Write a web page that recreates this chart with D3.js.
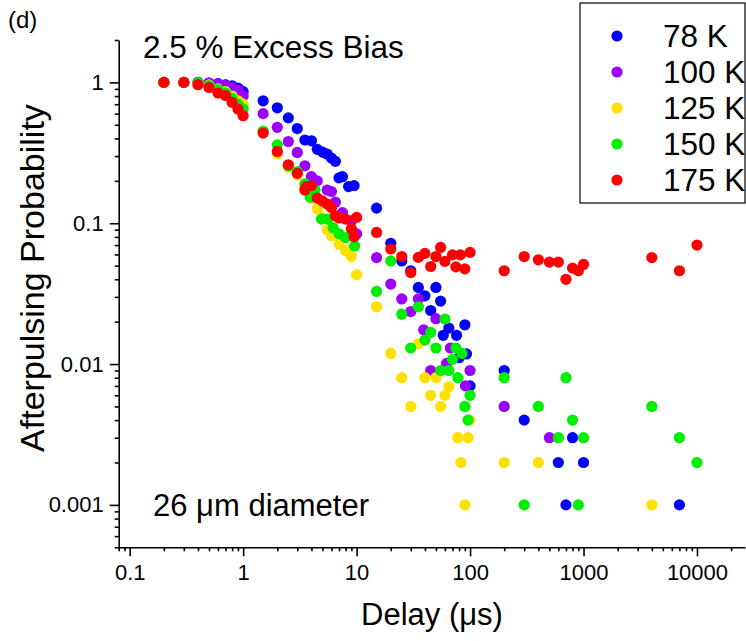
<!DOCTYPE html>
<html>
<head>
<meta charset="utf-8">
<script src="https://cdn.jsdelivr.net/npm/d3@7"></script>
<style>
  html, body { margin: 0; padding: 0; background: #fff; }
  svg { display: block; font-family: "Liberation Sans", Arial, sans-serif; }
  .axis path, .axis line { stroke: #000; stroke-width: 1.6px; }
  .axis text { fill: #000; font-size: 22px; font-family: "Liberation Sans", Arial, sans-serif; }
</style>
</head>
<body>
<svg id="chart" width="746" height="641"></svg>
<script>
// Afterpulsing probability vs. delay, 2.5 % excess bias, 26 um diameter device
const seriesNames = ["78 K", "100 K", "125 K", "150 K", "175 K"];
const seriesColors = ["#0000ff", "#9900ff", "#ffe100", "#00ee00", "#ff0000"];

const delay78 = [0.2,0.3,0.4,0.5,0.6,0.7,0.8,0.9,1.0,1.5,2,2.5,3,3.5,4,4.5,5,5.5,6,6.5,7,7.5,8.5,9.5,15,20,25,30,35,40,45,50,55,58,65,76,80,90,93,100,200,300,600,700,800,1000,7000];
const prob78 = [1.0,1.0,1.0,0.99,0.98,0.96,0.945,0.91,0.86,0.74,0.66,0.56,0.47,0.39,0.385,0.335,0.32,0.31,0.29,0.275,0.21,0.214,0.182,0.185,0.128,0.072,0.054,0.046,0.035,0.0305,0.024,0.035,0.028,0.016,0.018,0.016,0.0111,0.019,0.0118,0.007,0.009,0.004,0.002,0.001,0.003,0.002,0.001];

const delay100 = [0.2,0.3,0.4,0.5,0.6,0.7,0.8,0.9,1.0,1.5,2,2.5,3,3.5,4,4.5,5.5,6,6.5,7.5,9,10,15,20,25,30,35,39,45,50,62,67,91,100,200,500];
const prob100 = [1.0,1.0,1.0,0.99,0.97,0.96,0.92,0.88,0.8,0.6,0.48,0.38,0.318,0.256,0.214,0.2,0.172,0.168,0.141,0.119,0.104,0.084,0.057,0.037,0.029,0.0236,0.029,0.0175,0.009,0.021,0.0101,0.013,0.007,0.009,0.005,0.003];

const delay125 = [0.2,0.3,0.4,0.5,0.6,0.7,0.8,0.9,1.0,1.5,2,2.5,3,3.5,4,4.5,5,5.5,6,7,8,9,10,15,20,25,30,35,40,45,50,55,60,65,78,83,90,96,100,200,400,4000];
const prob125 = [1.0,1.0,0.99,0.96,0.9,0.86,0.8,0.74,0.7,0.45,0.31,0.25,0.22,0.18,0.15,0.126,0.11,0.09,0.0815,0.071,0.064,0.058,0.043,0.0255,0.0119,0.008,0.005,0.0139,0.008,0.006,0.008,0.005,0.006,0.0069,0.003,0.002,0.001,0.003,0.004,0.002,0.002,0.001];

const delay150 = [0.2,0.3,0.4,0.5,0.6,0.7,0.8,0.9,1.0,1.5,2,2.5,3,3.5,3.9,4.3,4.9,5.6,6.2,7,8,9.6,15,20,25,30,35,40,45,50,55,60,65,70,75,78,85,90,96,100,200,300,400,600,700,800,900,1000,4000,7000,10000];
const prob150 = [1.0,1.0,0.99,0.95,0.89,0.84,0.77,0.7,0.65,0.45,0.36,0.256,0.233,0.19,0.153,0.172,0.107,0.107,0.093,0.084,0.079,0.069,0.0328,0.054,0.0226,0.013,0.0255,0.0148,0.0168,0.013,0.009,0.0209,0.009,0.0108,0.013,0.008,0.0119,0.005,0.004,0.006,0.008,0.001,0.005,0.003,0.008,0.004,0.001,0.003,0.005,0.003,0.002];

const delay175 = [0.2,0.3,0.4,0.5,0.6,0.7,0.8,0.9,1.0,1.5,2,2.5,3,3.5,3.6,4,4.5,5,5.5,6,6.5,7,8,9,9.5,10,15,20,25,30,35,40,45,50,55,60,70,75,82,90,100,200,300,400,500,600,700,800,900,1000,4000,7000,10000];
const prob175 = [1.0,1.0,0.963,0.92,0.841,0.805,0.721,0.647,0.58,0.437,0.323,0.26,0.226,0.172,0.182,0.185,0.151,0.144,0.137,0.129,0.113,0.109,0.107,0.091,0.08,0.11,0.086,0.0656,0.058,0.0447,0.0572,0.0611,0.0493,0.058,0.0673,0.0536,0.0596,0.049,0.0596,0.0474,0.0621,0.046,0.058,0.055,0.053,0.053,0.04,0.048,0.046,0.051,0.057,0.046,0.07];

const xTickValues = [0.1, 1, 10, 100, 1000, 10000];
const yTickValues = [0.001, 0.01, 0.1, 1];

const seriesDelays = [delay78, delay100, delay125, delay150, delay175];
const seriesProbs = [prob78, prob100, prob125, prob150, prob175];

const svg = d3.select("#chart");
const plotLeft = 118.7, plotRight = 745, plotTop = 40, plotBottom = 547.3;

const x = d3.scaleLog().domain([0.08, 26500]).range([plotLeft, plotRight]);
const y = d3.scaleLog().domain([0.0005, 2]).range([plotBottom, plotTop]);

// minor tick positions: 2..9 times each decade, inside the domain
function minorTicks(scale) {
  const [a, b] = scale.domain();
  const out = [];
  for (let e = Math.floor(Math.log10(a)); e <= Math.ceil(Math.log10(b)); e++) {
    for (let m = 2; m <= 9; m++) {
      const v = m * Math.pow(10, e);
      if (v >= a * 0.9999 && v <= b * 1.0001) out.push(v);
    }
  }
  return out;
}

// x axis
svg.append("g").attr("class", "axis")
  .attr("transform", `translate(0,${plotBottom})`)
  .call(d3.axisBottom(x).tickValues(minorTicks(x)).tickSize(4).tickFormat(""))
  .call(g => g.select(".domain").remove());
svg.append("g").attr("class", "axis")
  .attr("transform", `translate(0,${plotBottom})`)
  .call(d3.axisBottom(x).tickValues(xTickValues).tickSize(9).tickSizeOuter(0).tickPadding(8).tickFormat(d => String(d)));

// y axis
svg.append("g").attr("class", "axis")
  .attr("transform", `translate(${plotLeft},0)`)
  .call(d3.axisLeft(y).tickValues(minorTicks(y)).tickSize(4).tickFormat(""))
  .call(g => g.select(".domain").remove());
svg.append("g").attr("class", "axis")
  .attr("transform", `translate(${plotLeft},0)`)
  .call(d3.axisLeft(y).tickValues(yTickValues).tickSize(9).tickSizeOuter(0).tickPadding(6).tickFormat(d => String(d)));

// data points
const plot = svg.append("g");
seriesNames.forEach((name, i) => {
  const pts = seriesDelays[i].map((d, j) => ({ d, p: seriesProbs[i][j] }));
  plot.append("g").selectAll("circle").data(pts).join("circle")
    .attr("cx", v => x(v.d))
    .attr("cy", v => y(v.p))
    .attr("r", 5.6)
    .attr("fill", seriesColors[i]);
});

// axis titles
svg.append("text")
  .attr("x", 432).attr("y", 625)
  .attr("text-anchor", "middle")
  .attr("font-size", 31)
  .text("Delay (μs)");
svg.append("text")
  .attr("transform", "translate(44,278) rotate(-90)")
  .attr("text-anchor", "middle")
  .attr("font-size", 34)
  .text("Afterpulsing Probability");

// annotations
svg.append("text").attr("x", 8).attr("y", 28).attr("font-size", 24).text("(d)");
svg.append("text").attr("x", 143).attr("y", 58).attr("font-size", 31.5).text("2.5 % Excess Bias");
svg.append("text").attr("x", 153).attr("y", 516).attr("font-size", 31).text("26 μm diameter");

// legend
const lg = svg.append("g");
lg.append("rect").attr("x", 580).attr("y", 3).attr("width", 165).attr("height", 200)
  .attr("fill", "#fff").attr("stroke", "#000").attr("stroke-width", 1.2);
seriesNames.forEach((name, i) => {
  const cy = 36 + i * 36;
  lg.append("circle").attr("cx", 617).attr("cy", cy).attr("r", 5.6).attr("fill", seriesColors[i]);
  lg.append("text").attr("x", 663).attr("y", cy).attr("dy", "0.36em")
    .attr("font-size", 31.5).text(name);
});
</script>
</body>
</html>
